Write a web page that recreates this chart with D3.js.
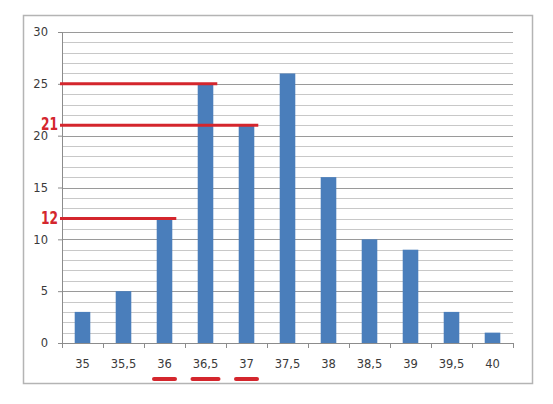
<!DOCTYPE html>
<head>
  <meta charset="utf-8">
  <script src="https://d3js.org/d3.v7.min.js"></script>
  <style>
    body { margin:0; background:#fff; }
    text { font-family: "DejaVu Sans", sans-serif; }
  </style>
</head>

<body>
  <script>
    // data
    var categories = ["35", "35,5", "36", "36,5", "37", "37,5", "38", "38,5", "39", "39,5", "40"];
    var counts = [3, 5, 12, 25, 21, 26, 16, 10, 9, 3, 1];
    var yTicks = [0, 5, 10, 15, 20, 25, 30];
    // red marks: value line drawn up to the bar of that category
    var marks = [
      {value: 25, cat: "36,5", label: ""},
      {value: 21, cat: "37", label: "21"},
      {value: 12, cat: "36", label: "12"}
    ];
    var underlined = ["36", "36,5", "37"];

    var W = 553, H = 404;
    var margin = {top: 32, right: 40, bottom: 61, left: 62};
    var width = W - margin.left - margin.right,
        height = H - margin.top - margin.bottom;

    var svg = d3.select("body").append("svg")
      .attr("width", W)
      .attr("height", H);

    // outer frame
    svg.append("rect")
      .attr("x", 23.5).attr("y", 15.5)
      .attr("width", 509).attr("height", 368)
      .attr("fill", "#fff")
      .attr("stroke", "#b4b4b4")
      .attr("stroke-width", 1.5);

    var g = svg.append("g")
      .attr("transform", "translate(" + margin.left + "," + margin.top + ")");

    var x = d3.scaleBand()
      .domain(categories)
      .range([0, width])
      .paddingInner(0.62)
      .paddingOuter(0.31);

    var y = d3.scaleLinear()
      .domain([0, 30])
      .range([height, 0]);

    // gridlines: minor every 1, major every 5
    g.selectAll(".minor")
      .data(d3.range(1, 31).filter(function(d) { return d % 5 != 0; }))
      .enter().append("line")
      .attr("class", "minor")
      .attr("x1", 0).attr("x2", width)
      .attr("y1", function(d) { return Math.round(y(d)) + 0.5; })
      .attr("y2", function(d) { return Math.round(y(d)) + 0.5; })
      .attr("stroke", "#c8c8c8");

    g.selectAll(".major")
      .data(yTicks.slice(1))
      .enter().append("line")
      .attr("class", "major")
      .attr("x1", 0).attr("x2", width)
      .attr("y1", function(d) { return Math.round(y(d)) + 0.5; })
      .attr("y2", function(d) { return Math.round(y(d)) + 0.5; })
      .attr("stroke", "#9a9a9a");

    g.selectAll(".bar")
      .data(counts)
      .enter().append("rect")
      .attr("class", "bar")
      .attr("x", function(d, i) { return x(categories[i]); })
      .attr("width", x.bandwidth())
      .attr("y", function(d) { return y(d); })
      .attr("height", function(d) { return height - y(d); })
      .attr("fill", "#4a7ebb");

    // y axis
    var yAxis = g.append("g")
      .call(d3.axisLeft(y).tickValues(yTicks).tickSize(4).tickPadding(10));
    yAxis.select(".domain").attr("stroke", "#8c8c8c");
    yAxis.selectAll(".tick line").attr("stroke", "#8c8c8c");
    yAxis.selectAll("text").attr("font-size", 11.5).attr("fill", "#3a3a3a");

    // x axis: ticks between categories
    var xAxis = g.append("g")
      .attr("transform", "translate(0," + height + ")");
    xAxis.append("line")
      .attr("x1", 0).attr("x2", width)
      .attr("y1", 0.5).attr("y2", 0.5)
      .attr("stroke", "#8c8c8c");
    xAxis.selectAll(".xt")
      .data(d3.range(0, categories.length + 1))
      .enter().append("line")
      .attr("class", "xt")
      .attr("x1", function(d) { return Math.round(d * width / categories.length) + 0.5; })
      .attr("x2", function(d) { return Math.round(d * width / categories.length) + 0.5; })
      .attr("y1", 0).attr("y2", 5)
      .attr("stroke", "#8c8c8c");
    xAxis.selectAll(".xl")
      .data(categories)
      .enter().append("text")
      .attr("class", "xl")
      .attr("x", function(d) { return x(d) + x.bandwidth() / 2; })
      .attr("y", 25)
      .attr("text-anchor", "middle")
      .attr("font-size", 11.5)
      .attr("fill", "#3a3a3a")
      .text(function(d) { return d; });

    // red annotations
    var red = "#d4262d";
    g.selectAll(".mark")
      .data(marks)
      .enter().append("line")
      .attr("class", "mark")
      .attr("x1", -2)
      .attr("x2", function(d) { return x(d.cat) + x.bandwidth() + 4; })
      .attr("y1", function(d) { return y(d.value); })
      .attr("y2", function(d) { return y(d.value); })
      .attr("stroke", red)
      .attr("stroke-width", 3);

    // narrow red numbers, squeezed horizontally
    g.selectAll(".mlabel")
      .data(marks.filter(function(d) { return d.label; }))
      .enter().append("text")
      .attr("class", "mlabel")
      .attr("transform", function(d) { return "translate(-4," + (y(d.value) + 5) + ") scale(0.68,1)"; })
      .attr("text-anchor", "end")
      .attr("font-family", "'Liberation Sans', sans-serif")
      .attr("font-weight", "bold")
      .attr("font-size", 18)
      .attr("fill", red)
      .text(function(d) { return d.label; });

    g.selectAll(".uline")
      .data(underlined)
      .enter().append("line")
      .attr("class", "uline")
      .attr("x1", function(d) { return x(d) + x.bandwidth() / 2 - (8 + d.length * 1.25); })
      .attr("x2", function(d) { return x(d) + x.bandwidth() / 2 + (8 + d.length * 1.25); })
      .attr("y1", height + 36)
      .attr("y2", height + 36)
      .attr("stroke", red)
      .attr("stroke-width", 4)
      .attr("stroke-linecap", "round");
  </script>
</body>
